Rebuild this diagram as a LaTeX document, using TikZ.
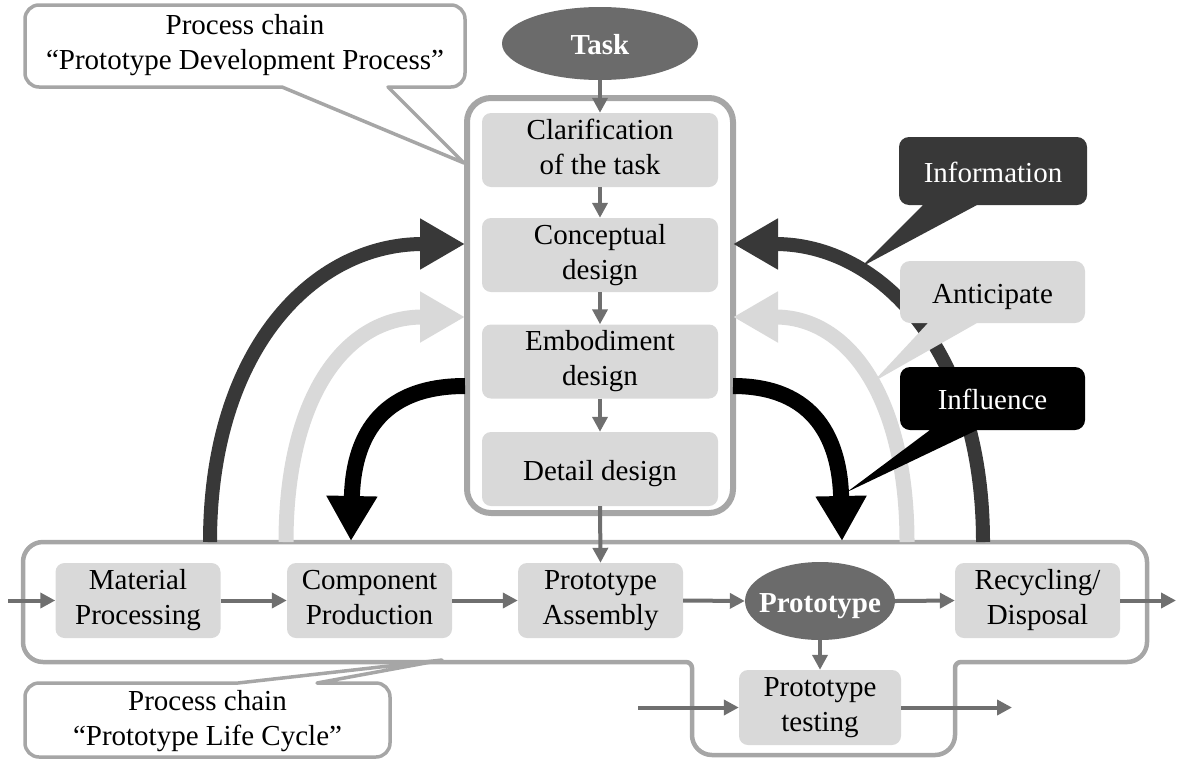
\documentclass[tikz,border=0pt]{standalone}
\usepackage{fontspec}
\setmainfont{Liberation Serif}
\usetikzlibrary{arrows.meta,shapes.geometric}
\definecolor{framegray}{HTML}{A6A6A6}
\definecolor{boxfill}{HTML}{D9D9D9}
\definecolor{flowgray}{HTML}{6F6F6F}
\definecolor{ovalfill}{HTML}{6B6B6B}
\definecolor{darkarc}{HTML}{383838}
\tikzset{
  txt/.style={font=\fontsize{29}{35}\selectfont, align=center, inner sep=0pt,
    execute at begin node={\rule{0pt}{29pt}},
    execute at end node={\rule[-7pt]{0pt}{0pt}}},
  stepbox/.style={txt, fill=boxfill, rounded corners=9pt, minimum width=165pt, minimum height=75pt},
  devbox/.style={stepbox, minimum width=236pt, minimum height=74pt},
  oval/.style={ellipse, fill=ovalfill, inner sep=0pt},
  ovaltext/.style={txt, text=white, font=\fontsize{29}{35}\selectfont\bfseries},
  flow/.style={draw=flowgray, line width=4pt, -{Triangle[length=15pt,width=15pt]}},
  devframe/.style={draw=framegray, line width=6pt, rounded corners=24pt, inner sep=0pt},
  lcframe/.style={draw=framegray, line width=4.5pt},
  callout/.style={draw=framegray, fill=white, line width=3.5pt, line join=round},
  bigarrow/.style={line width=#1, -{Triangle[length=45pt,width=48pt]}},
}
\begin{document}
\begin{tikzpicture}[x=1pt,y=-1pt]
\useasboundingbox (0,0) rectangle (1177,758);

% frame of the development process chain
\node[devframe, minimum width=266pt, minimum height=415pt] (dev) at (600,305.5) {};

% frame of the life cycle process chain
\draw[lcframe] (23,562) arc[start angle=180,end angle=270,radius=20]
  -- (1127,542) arc[start angle=270,end angle=360,radius=20]
  -- (1147,642) arc[start angle=0,end angle=90,radius=20]
  -- (961,662) arc[start angle=270,end angle=180,radius=6]
  -- (955,735) arc[start angle=0,end angle=90,radius=20]
  -- (712,755) arc[start angle=90,end angle=180,radius=20]
  -- (692,668) arc[start angle=0,end angle=-90,radius=6]
  -- (43,662) arc[start angle=90,end angle=180,radius=20] -- cycle;

% feedback arcs
\coordinate (lD) at (210,542);   \coordinate (lDt) at (465,244);
\coordinate (lL) at (286,542);   \coordinate (lLt) at (465,317);
\coordinate (lB) at (465,386);   \coordinate (lBt) at (351,541);
\coordinate (rD) at (983,542);   \coordinate (rDt) at (733,244);
\coordinate (rL) at (907,542);   \coordinate (rLt) at (733,317);
\coordinate (rB) at (733,386);   \coordinate (rBt) at (842,541);

\draw[bigarrow=14pt, darkarc] (lD) .. controls (210,350) and (313,244) .. (lDt);
\draw[bigarrow=15pt, boxfill] (lL) .. controls (286,400) and (343,317) .. (lLt);
\draw[bigarrow=16pt, black] (lB) .. controls (378,386) and (353,440) .. (lBt);
\draw[bigarrow=14pt, darkarc] (rD) .. controls (983,350) and (880,244) .. (rDt);
\draw[bigarrow=15pt, boxfill] (rL) .. controls (907,400) and (850,317) .. (rLt);
\draw[bigarrow=16pt, black] (rB) .. controls (815,386) and (840,440) .. (rBt);

% development process steps
\node[oval, minimum width=196pt, minimum height=73pt] (task) at (600,43.5) {};
\node[ovaltext] (tasklabel) at (task) {Task};
\node[devbox] (clar) at (600,150) {Clarification\\of the task};
\node[devbox] (concept) at (600,255) {Conceptual\\design};
\node[devbox] (embod) at (600,361.5) {Embodiment\\design};
\node[devbox] (detail) at (600,469) {Detail design};

% life cycle steps
\node[stepbox] (mat) at (138,600.5) {Material\\Processing};
\node[stepbox] (comp) at (369.5,600.5) {Component\\Production};
\node[stepbox] (assy) at (600.5,600.5) {Prototype\\Assembly};
\node[oval, minimum width=150pt, minimum height=78pt] (proto) at (820,601) {};
\node[ovaltext] (protolabel) at (proto) {Prototype};
\node[stepbox] (recy) at (1037.5,600.5) {Recycling/\\Disposal};
\node[stepbox, minimum width=162pt] (test) at (820,707.5) {Prototype\\testing};

\coordinate (in1) at (8,600.5);
\coordinate (out1) at (1176,600.5);
\coordinate (in2) at (638,707.5);
\coordinate (out2) at (1012,707.5);

% flow arrows
\draw[flow] (task.south) -- (clar.north);
\draw[flow] (clar.south) -- (concept.north);
\draw[flow] (concept.south) -- (embod.north);
\draw[flow] (embod.south) -- (detail.north);
\draw[flow] (detail.south) -- (assy.north);
\draw[flow] (in1) -- (mat.west);
\draw[flow] (mat.east) -- (comp.west);
\draw[flow] (comp.east) -- (assy.west);
\draw[flow] (assy.east) -- (proto.west);
\draw[flow] (proto.east) -- (recy.west);
\draw[flow] (recy.east) -- (out1);
\draw[flow] (proto.south) -- (test.north);
\draw[flow] (in2) -- (test.west);
\draw[flow] (test.east) -- (out2);

% callout: development process chain
\draw[callout] (25,19) arc[start angle=180,end angle=270,radius=14]
  -- (451,5) arc[start angle=270,end angle=360,radius=14]
  -- (465,73) arc[start angle=0,end angle=90,radius=14]
  -- (388,87) -- (464,163) -- (282,87)
  -- (39,87) arc[start angle=90,end angle=180,radius=14] -- cycle;
\node[txt] (pdp) at (245,45.5) {Process chain\\“Prototype Development Process”};

% callout: life cycle process chain
\draw[callout] (25,697) arc[start angle=180,end angle=270,radius=14]
  -- (238,683) -- (442,660) -- (317,683)
  -- (376,683) arc[start angle=270,end angle=360,radius=14]
  -- (390,743) arc[start angle=0,end angle=90,radius=14]
  -- (39,757) arc[start angle=90,end angle=180,radius=14] -- cycle;
\node[txt] (plc) at (207.5,721.5) {Process chain\\“Prototype Life Cycle”};

% legend callouts
\fill[darkarc] (899,147) arc[start angle=180,end angle=270,radius=10]
  -- (1077,137) arc[start angle=270,end angle=360,radius=10]
  -- (1087,195) arc[start angle=0,end angle=90,radius=10]
  -- (977,205) -- (861,267) -- (923,205)
  -- (909,205) arc[start angle=90,end angle=180,radius=10] -- cycle;
\node[txt, text=white] (info) at (993,171) {Information};

\fill[boxfill] (900,271) arc[start angle=180,end angle=270,radius=10]
  -- (1075,261) arc[start angle=270,end angle=360,radius=10]
  -- (1085,313) arc[start angle=0,end angle=90,radius=10]
  -- (977,323) -- (873,382) -- (928,323)
  -- (910,323) arc[start angle=90,end angle=180,radius=10] -- cycle;
\node[txt] (anti) at (992.5,292) {Anticipate};

\fill[black] (900,377) arc[start angle=180,end angle=270,radius=10]
  -- (1075,367) arc[start angle=270,end angle=360,radius=10]
  -- (1085,420) arc[start angle=0,end angle=90,radius=10]
  -- (977,430) -- (847,492) -- (930,430)
  -- (910,430) arc[start angle=90,end angle=180,radius=10] -- cycle;
\node[txt, text=white] (infl) at (992.5,398.5) {Influence};
\end{tikzpicture}
\end{document}
